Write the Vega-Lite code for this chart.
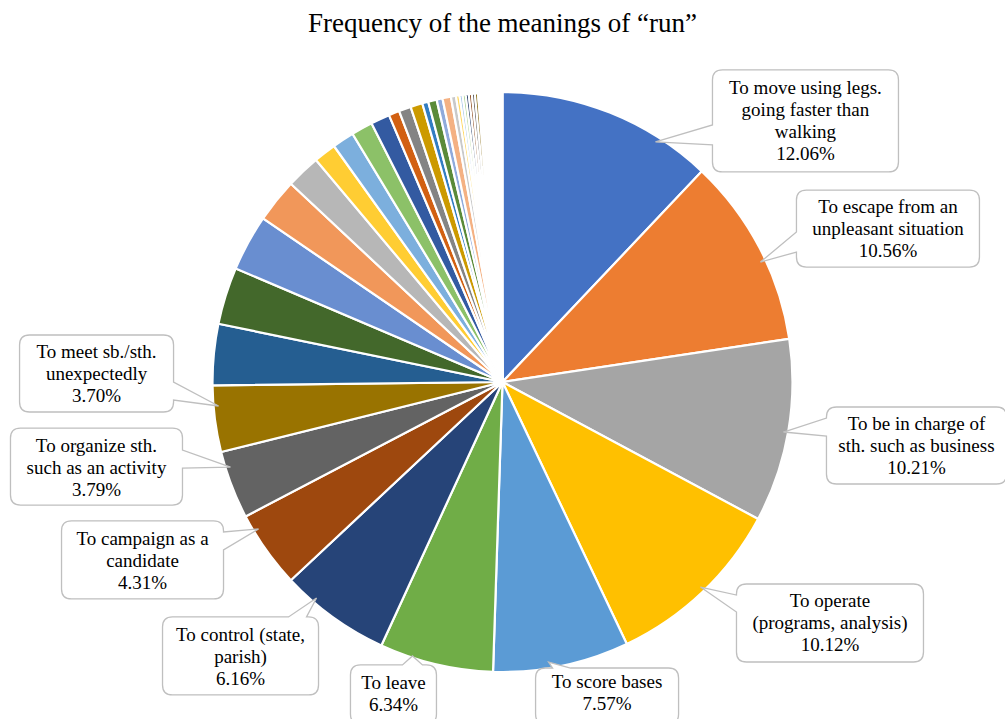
{
  "$schema": "https://vega.github.io/schema/vega-lite/v6.json",
  "width": 1005,
  "height": 674,
  "autosize": {"type": "none"},
  "padding": {"top": 45, "left": 0, "right": 0, "bottom": 0},
  "background": "white",
  "title": {"text": "Frequency of the meanings of “run”", "font": "Liberation Serif", "fontSize": 27, "fontWeight": "normal", "color": "#000000", "offset": 14, "dy": 28, "baseline": "alphabetic", "anchor": "middle", "frame": "group"},
  "config": {"view": {"stroke": null}},
  "data": {"values": [
    {"id": "s01", "pct": 12.06, "label": ["To move using legs.", "going faster than", "walking", "12.06%"]},
    {"id": "s02", "pct": 10.56, "label": ["To escape from an", "unpleasant situation", "10.56%"]},
    {"id": "s03", "pct": 10.21, "label": ["To be in charge of", "sth. such as business", "10.21%"]},
    {"id": "s04", "pct": 10.12, "label": ["To operate", "(programs, analysis)", "10.12%"]},
    {"id": "s05", "pct": 7.57, "label": ["To score bases", "7.57%"]},
    {"id": "s06", "pct": 6.34, "label": ["To leave", "6.34%"]},
    {"id": "s07", "pct": 6.16, "label": ["To control (state,", "parish)", "6.16%"]},
    {"id": "s08", "pct": 4.31, "label": ["To campaign as a", "candidate", "4.31%"]},
    {"id": "s09", "pct": 3.79, "label": ["To organize sth.", "such as an activity", "3.79%"]},
    {"id": "s10", "pct": 3.70, "label": ["To meet sb./sth.", "unexpectedly", "3.70%"]},
    {"id": "s11", "pct": 3.40},
    {"id": "s12", "pct": 3.18},
    {"id": "s13", "pct": 3.14},
    {"id": "s14", "pct": 2.44},
    {"id": "s15", "pct": 1.90},
    {"id": "s16", "pct": 1.25},
    {"id": "s17", "pct": 1.22},
    {"id": "s18", "pct": 1.19},
    {"id": "s19", "pct": 1.06},
    {"id": "s20", "pct": 0.60},
    {"id": "s21", "pct": 0.67},
    {"id": "s22", "pct": 0.67},
    {"id": "s23", "pct": 0.34},
    {"id": "s24", "pct": 0.47},
    {"id": "s25", "pct": 0.33},
    {"id": "s26", "pct": 0.47},
    {"id": "s27", "pct": 0.28},
    {"id": "s28", "pct": 0.20},
    {"id": "s29", "pct": 0.17},
    {"id": "s30", "pct": 0.17},
    {"id": "s31", "pct": 0.17},
    {"id": "s32", "pct": 0.17},
    {"id": "s33", "pct": 0.17},
    {"id": "s34", "pct": 0.17},
    {"id": "s35", "pct": 0.09},
    {"id": "s36", "pct": 0.09},
    {"id": "s37", "pct": 0.09},
    {"id": "s38", "pct": 0.09},
    {"id": "s39", "pct": 0.09},
    {"id": "s40", "pct": 0.09},
    {"id": "s41", "pct": 0.09},
    {"id": "s42", "pct": 0.09},
    {"id": "s43", "pct": 0.09},
    {"id": "s44", "pct": 0.09},
    {"id": "s45", "pct": 0.09},
    {"id": "s46", "pct": 0.09},
    {"id": "s47", "pct": 0.09},
    {"id": "s48", "pct": 0.09},
    {"id": "s49", "pct": 0.09}
  ]},
  "transform": [
    {"window": [{"op": "sum", "field": "pct", "as": "v1"}], "frame": [null, 0]},
    {"calculate": "datum.v1 - datum.pct", "as": "v0"},
    {"calculate": "PI * (datum.v0 + datum.v1) / 100", "as": "mid"},
    {"calculate": "sin(datum.mid)", "as": "ax"},
    {"calculate": "cos(datum.mid)", "as": "ay"}
  ],
  "layer": [
    {
      "mark": {"type": "arc", "outerRadius": 290, "stroke": "white", "strokeWidth": 2.2},
      "encoding": {
        "theta": {"field": "v0", "type": "quantitative", "stack": null, "scale": {"domain": [0, 100], "range": [0, 6.283185307179586]}},
        "theta2": {"field": "v1"},
        "color": {"field": "id", "type": "nominal", "legend": null, "scale": {
          "domain": ["s01","s02","s03","s04","s05","s06","s07","s08","s09","s10","s11","s12","s13","s14","s15","s16","s17","s18","s19","s20","s21","s22","s23","s24","s25","s26","s27","s28","s29","s30","s31","s32","s33","s34","s35","s36","s37","s38","s39","s40","s41","s42","s43","s44","s45","s46","s47","s48","s49"],
          "range": ["#4472C4","#ED7D31","#A5A5A5","#FFC000","#5B9BD5","#70AD47","#264478","#9E480E","#636363","#997300","#255E91","#43682B","#698ED0","#F1975A","#B7B7B7","#FFCD33","#7CAFDD","#8CC168","#335AA1","#D26012","#848484","#CC9A00","#327DC2","#5A8A39","#8FAADC","#F4B183","#C9C9C9","#FFD966","#9DC3E6","#A9D18E","#203864","#843C0C","#525252","#7F6000","#1F4E79","#385723","#5B83CB","#EF8B46","#ADADAD","#FFC619","#6BA5D9","#7DB655","#B4C7E7","#F8CBAD","#DBDBDB","#FFE699","#BDD7EE","#C5E0B4","#2F5597"]}}
      }
    },
    {
      "transform": [{"filter": "isValid(datum.label)"}],
      "mark": {"type": "point", "filled": true, "fill": "white", "stroke": "#BFBFBF", "strokeWidth": 1.3, "size": 4, "opacity": 1},
      "encoding": {
        "x": {"field": "ax", "type": "quantitative", "axis": null, "scale": {"domain": [-1.732758, 1.732758], "nice": false, "zero": false}},
        "y": {"field": "ay", "type": "quantitative", "axis": null, "scale": {"domain": [-1.162069, 1.162069], "nice": false, "zero": false}},
        "shape": {"field": "id", "type": "nominal", "legend": null, "scale": {
          "domain": ["s01","s02","s03","s04","s05","s06","s07","s08","s09","s10"],
          "range": [
            "M112.7,-42.6 L278.7,-42.6 Q288.7,-42.6 288.7,-32.6 L288.7,49.4 Q288.7,59.4 278.7,59.4 L112.7,59.4 Q102.7,59.4 102.7,49.4 L102.7,32.4 L45.7,29.4 L102.7,12.4 L102.7,-32.6 Q102.7,-42.6 112.7,-42.6 Z",
            "M46.9,-57.7 L209.9,-57.7 Q219.9,-57.7 219.9,-47.7 L219.9,9.3 Q219.9,19.3 209.9,19.3 L46.9,19.3 Q36.9,19.3 36.9,9.3 L36.9,4.3 L0.9,14.3 L36.9,-15.7 L36.9,-47.7 Q36.9,-57.7 46.9,-57.7 Z",
            "M48.2,-24.4 L208.2,-24.4 Q218.2,-24.4 218.2,-14.4 L218.2,42.6 Q218.2,52.6 208.2,52.6 L48.2,52.6 Q38.2,52.6 38.2,42.6 L38.2,4.6 L-4.8,0.6 L38.2,-13.4 L38.2,-14.4 Q38.2,-24.4 48.2,-24.4 Z",
            "M44,-8 L211,-8 Q221,-8 221,2 L221,60 Q221,70 211,70 L44,70 Q34,70 34,60 L34,20 L-2,-5 L34,3 L34,2 Q34,-8 44,-8 Z",
            "M-16,2.1 L-9,2.1 L-13,-3.9 L9,2.1 L107,2.1 Q117,2.1 117,12.1 L117,48.1 Q117,58.1 107,58.1 L-16,58.1 Q-26,58.1 -26,48.1 L-26,12.1 Q-26,2.1 -16,2.1 Z",
            "M-75.4,0.7 L-33.4,0.7 L-23.4,-8.3 L-13.4,0.7 L-9.4,0.7 Q0.6,0.7 0.6,10.7 L0.6,49.7 Q0.6,59.7 -9.4,59.7 L-75.4,59.7 Q-85.4,59.7 -85.4,49.7 L-85.4,10.7 Q-85.4,0.7 -75.4,0.7 Z",
            "M-160.4,-0.3 L-44.4,-0.3 L-16.4,-19.3 L-26.4,-0.3 L-24.4,-0.3 Q-14.4,-0.3 -14.4,9.7 L-14.4,67.7 Q-14.4,77.7 -24.4,77.7 L-160.4,77.7 Q-170.4,77.7 -170.4,67.7 L-170.4,9.7 Q-170.4,-0.3 -160.4,-0.3 Z",
            "M-194.5,-28.9 L-52.5,-28.9 Q-42.5,-28.9 -42.5,-18.9 L-42.5,-17.9 L-7.5,-20.9 L-42.5,0.1 L-42.5,39.1 Q-42.5,49.1 -52.5,49.1 L-194.5,49.1 Q-204.5,49.1 -204.5,39.1 L-204.5,-18.9 Q-204.5,-28.9 -194.5,-28.9 Z",
            "M-210.9,-56.9 L-58.9,-56.9 Q-48.9,-56.9 -48.9,-46.9 L-48.9,-34.9 L-0.9,-17.9 L-48.9,-16.9 L-48.9,10.1 Q-48.9,20.1 -58.9,20.1 L-210.9,20.1 Q-220.9,20.1 -220.9,10.1 L-220.9,-46.9 Q-220.9,-56.9 -210.9,-56.9 Z",
            "M-185.3,-83.9 L-51.3,-83.9 Q-41.3,-83.9 -41.3,-73.9 L-41.3,-36.9 L3.7,-12.9 L-41.3,-18.9 L-41.3,-16.9 Q-41.3,-6.9 -51.3,-6.9 L-185.3,-6.9 Q-195.3,-6.9 -195.3,-16.9 L-195.3,-73.9 Q-195.3,-83.9 -185.3,-83.9 Z"
          ]}}
      }
    },
    {"transform": [{"filter": "datum.id == 's01'"}], "mark": {"type": "text", "font": "Liberation Serif", "fontSize": 19, "lineHeight": 22, "align": "center", "baseline": "middle", "color": "#000000", "dx": 195.7, "dy": -24.6},
     "encoding": {"x": {"field": "ax", "type": "quantitative"}, "y": {"field": "ay", "type": "quantitative"}, "text": {"field": "label", "type": "nominal"}}},
    {"transform": [{"filter": "datum.id == 's02'"}], "mark": {"type": "text", "font": "Liberation Serif", "fontSize": 19, "lineHeight": 22, "align": "center", "baseline": "middle", "color": "#000000", "dx": 128.4, "dy": -41.2},
     "encoding": {"x": {"field": "ax", "type": "quantitative"}, "y": {"field": "ay", "type": "quantitative"}, "text": {"field": "label", "type": "nominal"}}},
    {"transform": [{"filter": "datum.id == 's03'"}], "mark": {"type": "text", "font": "Liberation Serif", "fontSize": 19, "lineHeight": 22, "align": "center", "baseline": "middle", "color": "#000000", "dx": 128.2, "dy": -7.9},
     "encoding": {"x": {"field": "ax", "type": "quantitative"}, "y": {"field": "ay", "type": "quantitative"}, "text": {"field": "label", "type": "nominal"}}},
    {"transform": [{"filter": "datum.id == 's04'"}], "mark": {"type": "text", "font": "Liberation Serif", "fontSize": 19, "lineHeight": 22, "align": "center", "baseline": "middle", "color": "#000000", "dx": 127.5, "dy": 9},
     "encoding": {"x": {"field": "ax", "type": "quantitative"}, "y": {"field": "ay", "type": "quantitative"}, "text": {"field": "label", "type": "nominal"}}},
    {"transform": [{"filter": "datum.id == 's05'"}], "mark": {"type": "text", "font": "Liberation Serif", "fontSize": 19, "lineHeight": 22, "align": "center", "baseline": "middle", "color": "#000000", "dx": 45.5, "dy": 16.1},
     "encoding": {"x": {"field": "ax", "type": "quantitative"}, "y": {"field": "ay", "type": "quantitative"}, "text": {"field": "label", "type": "nominal"}}},
    {"transform": [{"filter": "datum.id == 's06'"}], "mark": {"type": "text", "font": "Liberation Serif", "fontSize": 19, "lineHeight": 22, "align": "center", "baseline": "middle", "color": "#000000", "dx": -42.4, "dy": 18.7},
     "encoding": {"x": {"field": "ax", "type": "quantitative"}, "y": {"field": "ay", "type": "quantitative"}, "text": {"field": "label", "type": "nominal"}}},
    {"transform": [{"filter": "datum.id == 's07'"}], "mark": {"type": "text", "font": "Liberation Serif", "fontSize": 19, "lineHeight": 22, "align": "center", "baseline": "middle", "color": "#000000", "dx": -92.4, "dy": 17.7},
     "encoding": {"x": {"field": "ax", "type": "quantitative"}, "y": {"field": "ay", "type": "quantitative"}, "text": {"field": "label", "type": "nominal"}}},
    {"transform": [{"filter": "datum.id == 's08'"}], "mark": {"type": "text", "font": "Liberation Serif", "fontSize": 19, "lineHeight": 22, "align": "center", "baseline": "middle", "color": "#000000", "dx": -123.5, "dy": -10.9},
     "encoding": {"x": {"field": "ax", "type": "quantitative"}, "y": {"field": "ay", "type": "quantitative"}, "text": {"field": "label", "type": "nominal"}}},
    {"transform": [{"filter": "datum.id == 's09'"}], "mark": {"type": "text", "font": "Liberation Serif", "fontSize": 19, "lineHeight": 22, "align": "center", "baseline": "middle", "color": "#000000", "dx": -134.9, "dy": -38.9},
     "encoding": {"x": {"field": "ax", "type": "quantitative"}, "y": {"field": "ay", "type": "quantitative"}, "text": {"field": "label", "type": "nominal"}}},
    {"transform": [{"filter": "datum.id == 's10'"}], "mark": {"type": "text", "font": "Liberation Serif", "fontSize": 19, "lineHeight": 22, "align": "center", "baseline": "middle", "color": "#000000", "dx": -118.3, "dy": -66.9},
     "encoding": {"x": {"field": "ax", "type": "quantitative"}, "y": {"field": "ay", "type": "quantitative"}, "text": {"field": "label", "type": "nominal"}}}
  ]
}
